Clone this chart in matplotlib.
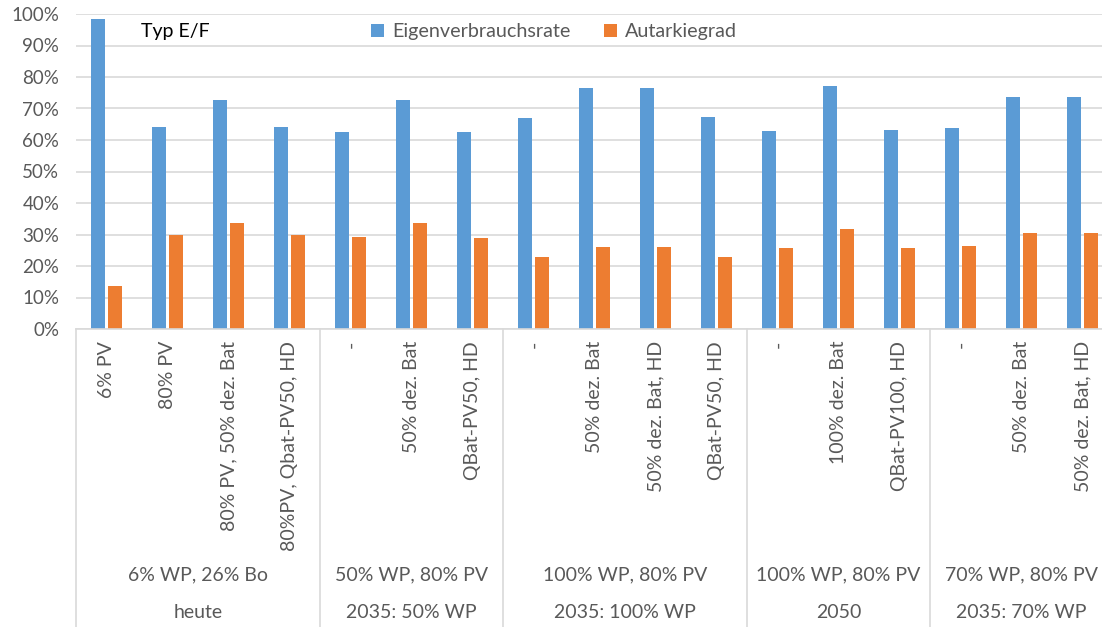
import numpy as np
import matplotlib
matplotlib.use("Agg")
import matplotlib.pyplot as plt
from matplotlib.ticker import PercentFormatter
from matplotlib.transforms import blended_transform_factory
from matplotlib.lines import Line2D

plt.rcParams['font.family'] = ['Lato', 'DejaVu Sans']

# category labels (lowest level of the x axis)
categories = ["6% PV", "80% PV", "80% PV, 50% dez. Bat", "80%PV, Qbat-PV50, HD",
              "-", "50% dez. Bat", "QBat-PV50, HD",
              "-", "50% dez. Bat", "50% dez. Bat, HD", "QBat-PV50, HD",
              "-", "100% dez. Bat", "QBat-PV100, HD",
              "-", "50% dez. Bat", "50% dez. Bat, HD"]
# groups and their number of categories
groups = ["6% WP, 26% Bo", "50% WP, 80% PV", "100% WP, 80% PV", "100% WP, 80% PV", "70% WP, 80% PV"]
scenarios = ["heute", "2035: 50% WP", "2035: 100% WP", "2050", "2035: 70% WP"]
group_sizes = [4, 3, 4, 3, 3]

eigenverbrauch = [98.3, 64.2, 72.6, 64.2, 62.4, 72.6, 62.4, 67.0, 76.6, 76.6,
                  67.4, 63.0, 77.0, 63.2, 63.8, 73.7, 73.7]
autarkie = [13.7, 30.0, 33.8, 30.0, 29.2, 33.8, 29.0, 22.8, 26.1, 25.9,
            22.8, 25.8, 31.7, 25.6, 26.3, 30.6, 30.4]

blue = "#5B9BD5"
orange = "#ED7D31"
grey_text = "#595959"
line_col = "#D9D9D9"

W, H = 1102, 627
fig = plt.figure(figsize=(W / 100, H / 100), dpi=100)
# plot area in pixels: left 76, top 14, bottom 329, category width ~61px
left, top, bottom = 76, 14, 329
cat_w = 61.0
ax_w = cat_w * len(categories)
ax = fig.add_axes([left / W, 1 - bottom / H, ax_w / W, (bottom - top) / H])

x = np.arange(len(categories))
ax.bar(x - 0.14, np.array(eigenverbrauch) / 100, 0.23, color=blue, label="Eigenverbrauchsrate", zorder=3)
ax.bar(x + 0.14, np.array(autarkie) / 100, 0.23, color=orange, label="Autarkiegrad", zorder=3)

ax.set_xlim(-0.5, len(categories) - 0.5)
ax.set_ylim(0, 1)
ax.set_yticks(np.arange(0, 1.01, 0.1))
ax.yaxis.set_major_formatter(PercentFormatter(1.0, decimals=0))
ax.tick_params(axis='y', length=0, pad=12, labelsize=13.5, labelcolor=grey_text)
ax.set_xticks([])
ax.grid(axis='y', color=line_col, linewidth=1.2, zorder=0)
for s in ["top", "right", "left"]:
    ax.spines[s].set_visible(False)
ax.spines["bottom"].set_color(line_col)
ax.spines["bottom"].set_linewidth(1.2)
ax.spines["bottom"].set_zorder(4)

# multi-level axis labels below the plot
trans = blended_transform_factory(ax.transData, ax.transAxes)
px = 1.0 / (bottom - top)  # one pixel in axes units
for i, lab in enumerate(categories):
    ax.text(i, -12 * px, lab, rotation=90, ha='center', va='top', fontsize=14,
            color=grey_text, transform=trans)

bottom_y = -(H - bottom) * px
start = 0
bounds = [-0.5]
for g, sc, n in zip(groups, scenarios, group_sizes):
    mid = start + (n - 1) / 2
    ax.text(mid, -(575 - bottom) * px, g, ha='center', va='center', fontsize=14,
            color=grey_text, transform=trans)
    ax.text(mid, -(613 - bottom) * px, sc, ha='center', va='center', fontsize=14,
            color=grey_text, transform=trans)
    start += n
    bounds.append(start - 0.5)
for b in bounds[:-1]:
    ax.add_line(Line2D([b, b], [0, bottom_y], color=line_col, linewidth=1.2,
                       transform=trans, clip_on=False))

fig.text(141 / W, 1 - 32 / H, "Typ E/F", fontsize=14, color="black",
         ha='left', va='center')
ax.legend(loc='center', bbox_to_anchor=((554 - left) / ax_w, (bottom - 32) / (bottom - top)),
          ncol=2, frameon=False, fontsize=14.2, labelcolor=grey_text,
          handlelength=0.65, handleheight=0.65, columnspacing=1.7, handletextpad=0.4)

fig.savefig("out.png", dpi=100)
